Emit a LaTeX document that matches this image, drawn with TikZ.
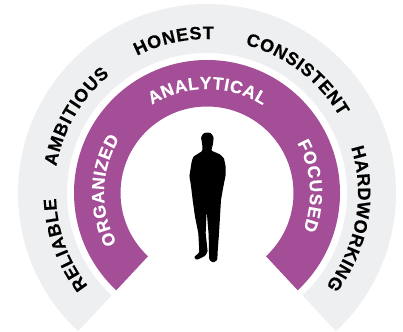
\documentclass[tikz,border=0pt]{standalone}
\usepackage{fontspec}
\setmainfont{Liberation Sans}
\usetikzlibrary{decorations.text}
\definecolor{ringgray}{HTML}{EEEFF1}
\definecolor{ringpurple}{HTML}{A34E97}
\newcommand{\graytext}{\fontsize{18}{18}\selectfont\bfseries\addfontfeature{FakeBold=0.3}}
\newcommand{\purpletext}{\fontsize{17.5}{18}\selectfont\bfseries\addfontfeature{FakeBold=0.3}}
\newcommand{\ringband}[3]{% outer radius, inner radius, colour
  \fill[#3] ([shift={(227:#1pt)}]c) arc[start angle=227,end angle=-47,radius=#1pt]
    -- ([shift={(-47:#2pt)}]c) arc[start angle=-47,end angle=227,radius=#2pt] -- cycle;
}
\newcommand{\ringword}[6]{% start, end, radius, font, text, colour
  \path[decorate,decoration={text along path,text color=#6,
    text={|#4|#5},text align={fit to path}}]
    ([shift={(#1:#3pt)}]c) arc[start angle=#1,end angle=#2,radius=#3pt];
}
\begin{document}
\begin{tikzpicture}[x=1pt,y=1pt]
\useasboundingbox (0,0) rectangle (403,331);
\coordinate (c) at (207,138);
\ringband{189}{140}{ringgray}
\ringband{133}{86.5}{ringpurple}
\ringword{218}{182}{151}{\graytext}{RELIABLE}{black}
\ringword{170}{129.5}{153}{\graytext}{AMBITIOUS}{black}
\ringword{117}{87.5}{154}{\graytext}{HONEST}{black}
\ringword{75.5}{30}{153}{\graytext}{CONSISTENT}{black}
\ringword{17.5}{-38}{151}{\graytext}{HARDWORKING}{black}
\ringword{209}{148}{103}{\purpletext}{ORGANIZED}{white}
\ringword{122}{57.5}{104}{\purpletext}{ANALYTICAL}{white}
\ringword{29}{-21}{103}{\purpletext}{FOCUSED}{white}
\begin{scope}[shift={(170,211)},x=0.3333pt,y=-0.3333pt]
\fill[black,rounded corners=1pt] (112,37) -- (124,40) -- (131,52) -- (129,72) -- (124,92) -- (150,103) -- (162,115) -- (167,140) -- (167,165) -- (160,200)
  -- (153,240) -- (150,290) -- (147,340) -- (143,395) -- (142,420) -- (130,428) -- (118,420) -- (117,400)
  -- (116,345) -- (110,272) -- (107,340) -- (113,395) -- (105,408) -- (80,420) -- (72,412) -- (88,397)
  -- (85,340) -- (75,290) -- (68,240) -- (62,190) -- (58,170) -- (65,125) -- (70,110) -- (97,93) -- (97,75) -- (93,52) -- (100,40) -- cycle;
\end{scope}
\end{tikzpicture}
\end{document}
